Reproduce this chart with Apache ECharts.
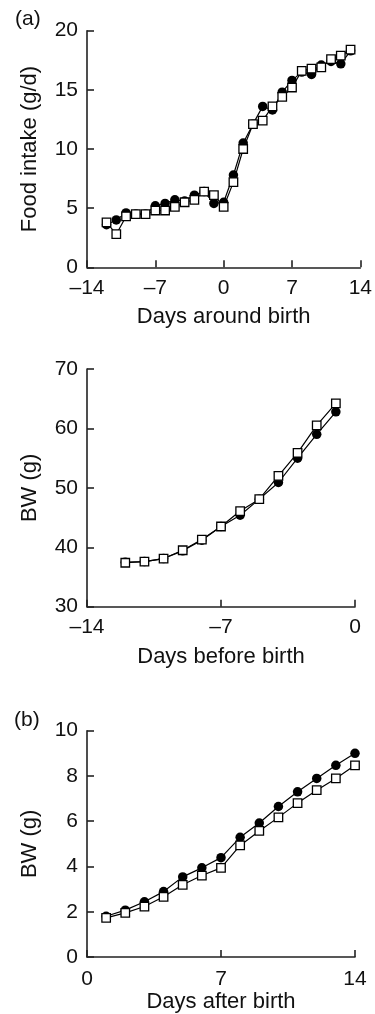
<!DOCTYPE html>
<html>
<head>
<meta charset="utf-8">
<script src="https://cdn.jsdelivr.net/npm/echarts@6/dist/echarts.min.js"></script>
<style>
  html, body { margin: 0; padding: 0; background: #fff; }
  #chart { width: 375px; height: 1014px; }
</style>
</head>
<body>
<div id="chart"></div>
<script>
// (a) food intake, days around birth
const daysAround = [-12, -11, -10, -9, -8, -7, -6, -5, -4, -3, -2, -1, 0, 1, 2, 3, 4, 5, 6, 7, 8, 9, 10, 11, 12, 13];
const intakeFilled = [3.6, 4.0, 4.6, 4.5, 4.5, 5.2, 5.4, 5.7, 5.6, 6.1, 6.4, 5.4, 5.5, 7.8, 10.5, 12.1, 13.6, 13.3, 14.8, 15.8, 16.5, 16.3, 17.1, 17.4, 17.2, 18.3];
const intakeOpen   = [3.8, 2.8, 4.3, 4.5, 4.5, 4.8, 4.8, 5.1, 5.5, 5.7, 6.4, 6.1, 5.1, 7.2, 10.0, 12.1, 12.4, 13.6, 14.4, 15.2, 16.6, 16.8, 16.9, 17.6, 17.9, 18.4];

// body weight, days before birth
const daysBefore = [-12, -11, -10, -9, -8, -7, -6, -5, -4, -3, -2, -1];
const bwBeforeFilled = [37.5, 37.6, 38.1, 39.4, 41.2, 43.5, 45.4, 48.1, 50.9, 55.0, 59.0, 62.8];
const bwBeforeOpen   = [37.4, 37.6, 38.1, 39.5, 41.3, 43.5, 46.1, 48.1, 52.0, 55.9, 60.5, 64.2];

// (b) body weight, days after birth
const daysAfter = [1, 2, 3, 4, 5, 6, 7, 8, 9, 10, 11, 12, 13, 14];
const bwAfterFilled = [1.8, 2.07, 2.44, 2.89, 3.54, 3.94, 4.39, 5.29, 5.92, 6.65, 7.3, 7.89, 8.47, 9.0];
const bwAfterOpen   = [1.73, 1.95, 2.23, 2.66, 3.19, 3.6, 3.94, 4.93, 5.57, 6.17, 6.8, 7.37, 7.89, 8.47];

const FONT = '"Liberation Sans", Arial, sans-serif';
const INK = '#111';

const pairs = (xs, ys) => xs.map((x, i) => [x, ys[i]]);
const dash = v => String(v).replace('-', '\u2013');

function xAxisFor(gridIndex, min, max, name, labelMargin, nameGap) {
  return {
    type: 'value', gridIndex, min, max, interval: 7,
    name, nameLocation: 'middle', nameGap,
    nameTextStyle: { fontFamily: FONT, fontSize: 22, color: INK },
    axisLine: { onZero: false, lineStyle: { color: '#222', width: 1.6 } },
    axisTick: { inside: true, length: 7, lineStyle: { color: '#222', width: 1.6 } },
    axisLabel: { fontFamily: FONT, fontSize: 21, color: INK, margin: labelMargin, formatter: dash },
    splitLine: { show: false }
  };
}

function yAxisFor(gridIndex, min, max, interval, name) {
  return {
    type: 'value', gridIndex, min, max, interval,
    name, nameLocation: 'middle', nameGap: 46, nameRotate: 90,
    nameTextStyle: { fontFamily: FONT, fontSize: 22, color: INK },
    axisLine: { show: true, onZero: false, lineStyle: { color: '#222', width: 1.6 } },
    axisTick: { show: true, inside: true, length: 7, lineStyle: { color: '#222', width: 1.6 } },
    axisLabel: { fontFamily: FONT, fontSize: 21, color: INK, margin: 9 },
    splitLine: { show: false }
  };
}

function filled(idx, data) {
  return {
    type: 'line', xAxisIndex: idx, yAxisIndex: idx, data,
    symbol: 'circle', symbolSize: 9.5,
    itemStyle: { color: '#000' },
    lineStyle: { color: '#000', width: 1.2 }
  };
}

function open(idx, data) {
  return {
    type: 'line', xAxisIndex: idx, yAxisIndex: idx, data,
    symbol: 'rect', symbolSize: 8.5,
    itemStyle: { color: '#fff', borderColor: '#000', borderWidth: 1.3 },
    lineStyle: { color: '#000', width: 1.2 }
  };
}

const chart = echarts.init(document.getElementById('chart'));

chart.setOption({
  animation: false,
  backgroundColor: '#fff',
  grid: [
    { left: 87, top: 30.7, width: 276, height: 236.6 },
    { left: 87, top: 369, width: 268, height: 237.7 },
    { left: 87, top: 730.7, width: 268, height: 227 }
  ],
  xAxis: [
    xAxisFor(0, -14, 14, 'Days around birth', 10, 39),
    xAxisFor(1, -14, 0, 'Days before birth', 10, 39),
    xAxisFor(2, 0, 14, 'Days after birth', 12, 34)
  ],
  yAxis: [
    yAxisFor(0, 0, 20, 5, 'Food intake (g/d)'),
    yAxisFor(1, 30, 70, 10, 'BW (g)'),
    yAxisFor(2, 0, 10, 2, 'BW (g)')
  ],
  graphic: [
    { type: 'text', left: 15, top: 9, style: { text: '(a)', font: '21px ' + FONT, fill: INK } },
    { type: 'text', left: 14, top: 710, style: { text: '(b)', font: '21px ' + FONT, fill: INK } }
  ],
  series: [
    filled(0, pairs(daysAround, intakeFilled)),
    open(0, pairs(daysAround, intakeOpen)),
    filled(1, pairs(daysBefore, bwBeforeFilled)),
    open(1, pairs(daysBefore, bwBeforeOpen)),
    filled(2, pairs(daysAfter, bwAfterFilled)),
    open(2, pairs(daysAfter, bwAfterOpen))
  ]
});
</script>
</body>
</html>
